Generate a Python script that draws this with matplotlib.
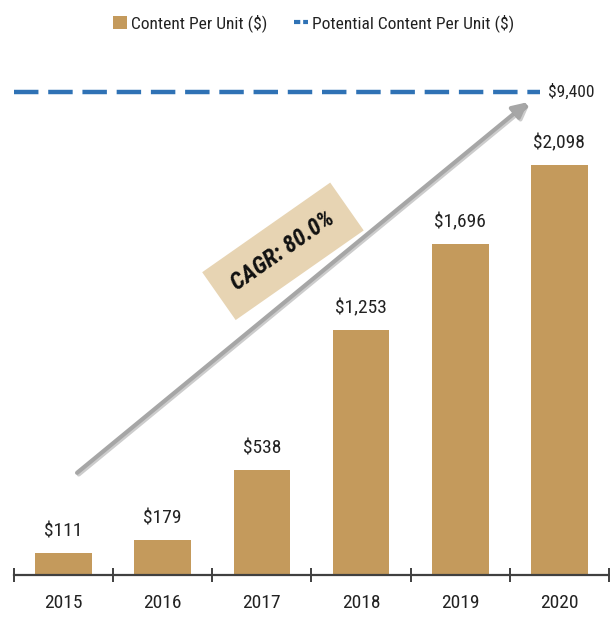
import matplotlib
matplotlib.use("Agg")
import matplotlib.pyplot as plt
import matplotlib.patheffects as pe
from matplotlib.lines import Line2D
from matplotlib.patches import Patch
import numpy as np

plt.rcParams['font.family'] = ['Roboto Condensed', 'DejaVu Sans']

years = ['2015', '2016', '2017', '2018', '2019', '2020']
content_per_unit = [111, 179, 538, 1253, 1696, 2098]
potential_content = 9400
cagr_label = 'CAGR: 80.0%'

BAR_COLOR = '#c49a5c'
LINE_COLOR = '#2f72b5'
ARROW_COLOR = '#a6a6a6'
BOX_COLOR = '#e7d4b3'
TEXT_COLOR = '#222222'

# compress the value axis above the tallest bar so the potential line fits
BREAK = 2200
K = 0.0378


def fwd(y):
    y = np.asarray(y, dtype=float)
    return np.where(y <= BREAK, y, BREAK + (y - BREAK) * K)


def inv(y):
    y = np.asarray(y, dtype=float)
    return np.where(y <= BREAK, y, BREAK + (y - BREAK) / K)


fig = plt.figure(figsize=(6.10, 6.17), dpi=100)
ax = fig.add_axes([14 / 610, 42 / 617, 595 / 610, 535 / 617])
ax.set_yscale('function', functions=(fwd, inv))

x = np.arange(len(years))
ax.bar(x, content_per_unit, width=0.57, color=BAR_COLOR, zorder=2)
for xi, v in zip(x, content_per_unit):
    ax.annotate(f'${v:,}', (xi, v), xytext=(0, 9), textcoords='offset points',
                ha='center', va='bottom', fontsize=14, color=TEXT_COLOR)

# potential content line
ax.plot([-0.5, 4.8], [potential_content, potential_content], color=LINE_COLOR,
        lw=3.2, dashes=(5.5, 2.2), zorder=3)
ax.annotate(f'${potential_content:,}', (4.88, potential_content), ha='left',
            va='center', fontsize=12.5, color=TEXT_COLOR)

ax.set_xlim(-0.5, 5.5)
ax.set_ylim(0, float(inv(2738)))

# growth arrow with a soft shadow
ax.annotate('', xy=(0.864, 0.884), xytext=(0.106, 0.191),
            xycoords='axes fraction', textcoords='axes fraction',
            arrowprops=dict(arrowstyle='-|>,head_length=0.9,head_width=0.45',
                            color=ARROW_COLOR, lw=3.0, shrinkA=0, shrinkB=0,
                            path_effects=[pe.SimpleLineShadow(offset=(1.2, -1.2), alpha=0.2),
                                          pe.Normal()]),
            zorder=1)
ax.text(0.452, 0.605, cagr_label, transform=ax.transAxes, rotation=35,
        rotation_mode='anchor', ha='center', va='center', fontsize=17,
        fontweight='bold', fontstyle='italic', color='#111111', zorder=4,
        bbox=dict(boxstyle='square,pad=0.75', fc=BOX_COLOR, ec='none'))

# axes styling
for side in ['left', 'right', 'top']:
    ax.spines[side].set_visible(False)
ax.spines['bottom'].set_color('#404040')
ax.spines['bottom'].set_linewidth(1.6)
ax.set_yticks([])
ax.set_xticks(x)
ax.set_xticklabels(years, fontsize=14, color=TEXT_COLOR)
ax.tick_params(axis='x', which='major', length=0, pad=14)
ax.set_xticks(np.arange(-0.5, 6.0, 1.0), minor=True)
ax.tick_params(axis='x', which='minor', length=10, width=1.4,
               direction='inout', color='#404040')

handles = [Patch(facecolor=BAR_COLOR, edgecolor='none'),
           Line2D([], [], color=LINE_COLOR, lw=3, dashes=(1.5, 0.7))]
fig.legend(handles, ['Content Per Unit ($)', 'Potential Content Per Unit ($)'],
           loc='center', bbox_to_anchor=(0.514, 0.962), ncol=2, frameon=False,
           fontsize=12.5, handlelength=0.8, handleheight=0.8, handletextpad=0.25,
           columnspacing=1.5, labelcolor=TEXT_COLOR)

fig.savefig('out.png', dpi=100)
